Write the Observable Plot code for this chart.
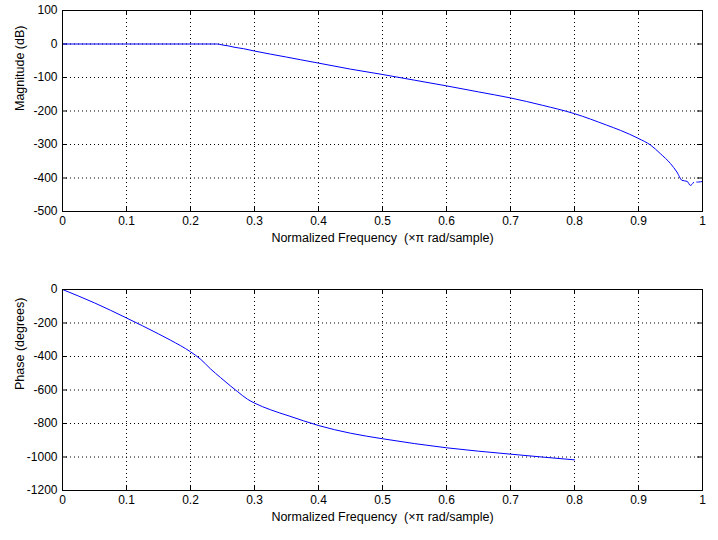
<!DOCTYPE html>
<html>
<head>
<meta charset="utf-8">
<script src="https://cdn.jsdelivr.net/npm/d3@7"></script>
<script src="https://cdn.jsdelivr.net/npm/@observablehq/plot@0.6"></script>
<style>
  body { margin: 0; background: #fff; }
  #chart { width: 718px; height: 540px; }
  #chart svg { display: block; }
</style>
</head>
<body>
<div id="chart"></div>
<script>
// Magnitude response (dB)
const magFreq = [0, 0.05, 0.1, 0.15, 0.2, 0.242, 0.25, 0.26, 0.268, 0.283, 0.3, 0.35, 0.372, 0.4, 0.45, 0.5, 0.55, 0.6, 0.65, 0.7, 0.75, 0.8, 0.85, 0.872, 0.9, 0.919, 0.934, 0.95, 0.96, 0.968, 0.976, 0.981, 0.986, 0.988, 0.991, 0.994, 1.0];
const magDb   = [0, 0, 0, 0, 0, 0, -3, -6, -9.5, -14, -21, -39, -47, -57, -75, -91, -108, -125, -143, -161, -183, -208, -242, -258, -282, -302, -327, -357, -382, -407, -410, -422, -413, null, -412, -412, -410];

// Phase response (degrees)
const phaseFreq = [0, 0.05, 0.1, 0.15, 0.169, 0.2, 0.216, 0.231, 0.247, 0.2625, 0.273, 0.289, 0.3, 0.325, 0.354, 0.4, 0.45, 0.5, 0.6, 0.7, 0.8];
const phaseDeg  = [0, -80, -170, -265, -303, -372, -417, -473, -526, -576, -608, -655, -678, -718, -755, -812, -858, -891, -945, -983, -1017];

// Tick labels
const xTicks = [0, 0.1, 0.2, 0.3, 0.4, 0.5, 0.6, 0.7, 0.8, 0.9, 1];
const magTicks = [-500, -400, -300, -200, -100, 0, 100];
const phaseTicks = [-1200, -1000, -800, -600, -400, -200, 0];

const xLabel = "Normalized Frequency\u00a0\u00a0(\u00d7\u03c0 rad/sample)";
const font = "'Liberation Sans', Arial, Helvetica, sans-serif";

function panel({xs, ys, yDomain, yTicks, yLabel, height, marginTop, marginBottom}) {
  const data = xs.map((x, i) => ({x, y: ys[i]}));
  const plotH = height - marginTop - marginBottom;
  const plotW = 718 - 62 - 16;
  const tick = 5;
  return Plot.plot({
    width: 718,
    height,
    marginLeft: 62,
    marginRight: 16,
    marginTop,
    marginBottom,
    style: {fontFamily: font, fontSize: "12px", color: "#000", background: "#fff"},
    x: {domain: [0, 1]},
    y: {domain: yDomain},
    marks: [
      // dotted grid
      Plot.ruleX(xTicks.slice(1, -1), {stroke: "#000", strokeWidth: 1, strokeDasharray: "1,3"}),
      Plot.ruleY(yTicks.slice(1, -1), {stroke: "#000", strokeWidth: 1, strokeDasharray: "1,3"}),
      // inward ticks on all four sides
      Plot.tickX(xTicks, {x: d => d, stroke: "#000", insetTop: plotH - tick}),
      Plot.tickX(xTicks, {x: d => d, stroke: "#000", insetBottom: plotH - tick}),
      Plot.tickY(yTicks, {y: d => d, stroke: "#000", insetRight: plotW - tick}),
      Plot.tickY(yTicks, {y: d => d, stroke: "#000", insetLeft: plotW - tick}),
      // axes (labels only)
      Plot.axisX(xTicks, {tickSize: 0, tickPadding: 5, tickFormat: d => String(d), label: null, fontSize: 12}),
      Plot.axisY(yTicks, {tickSize: 0, tickPadding: 5, tickFormat: d => String(d), label: null, fontSize: 12}),
      // response line
      Plot.line(data, {x: "x", y: "y", stroke: "#0000ff", strokeWidth: 1, curve: "monotone-x"}),
      Plot.frame({stroke: "#000", strokeWidth: 1}),
      // axis titles
      Plot.text([xLabel], {frameAnchor: "bottom", dy: 30, fontSize: 12.5, fill: "#000"}),
      Plot.text([yLabel], {frameAnchor: "left", dx: -43, rotate: -90, fontSize: 12.5, fill: "#000"})
    ]
  });
}

const chart = document.getElementById("chart");
chart.append(panel({xs: magFreq, ys: magDb, yDomain: [-500, 100], yTicks: magTicks,
  yLabel: "Magnitude (dB)", height: 270, marginTop: 10, marginBottom: 59}));
chart.append(panel({xs: phaseFreq, ys: phaseDeg, yDomain: [-1200, 0], yTicks: phaseTicks,
  yLabel: "Phase (degrees)", height: 270, marginTop: 19, marginBottom: 50}));
</script>
</body>
</html>
